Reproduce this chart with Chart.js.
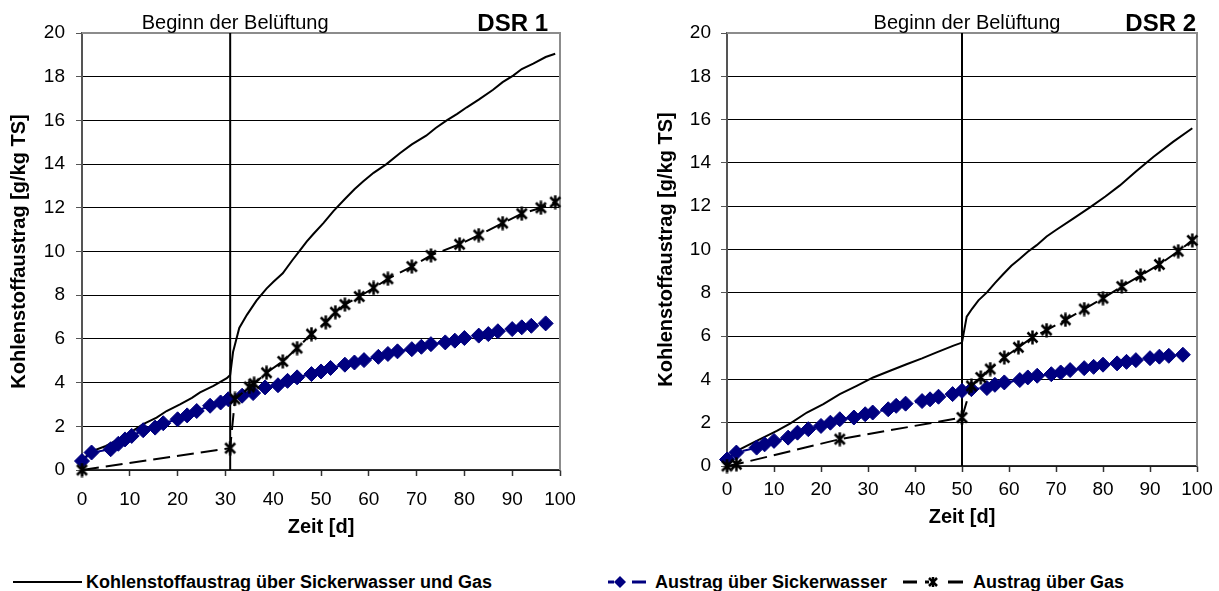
<!DOCTYPE html>
<html lang="de">
<head>
<meta charset="UTF-8">
<title>Kohlenstoffaustrag DSR 1 / DSR 2</title>
<script src="https://cdn.jsdelivr.net/npm/chart.js@4.4.1/dist/chart.umd.min.js"></script>
<style>
  body { margin: 0; background: #fff; font-family: 'Liberation Sans', Arial, sans-serif; }
  .page { position: relative; width: 1219px; height: 591px; overflow: hidden; background: #fff; }
  #dsr1 { position: absolute; left: 0; top: 0; }
  #dsr2 { position: absolute; left: 645px; top: 0; }
  .lg-icon { position: absolute; top: 570px; }
  .lg-text { position: absolute; top: 570px; font-size: 18px; line-height: 24px; font-weight: bold; color: #000; white-space: nowrap; }
</style>
</head>
<body>
<div class="page">
  <canvas id="dsr1" width="600" height="545"></canvas>
  <canvas id="dsr2" width="574" height="545"></canvas>

  <svg class="lg-icon" style="left:13px" width="70" height="24"><line x1="0" y1="12" x2="69" y2="12" stroke="#000" stroke-width="2"/></svg>
  <span class="lg-text" style="left:86px">Kohlenstoffaustrag über Sickerwasser und Gas</span>

  <svg class="lg-icon" style="left:606px" width="42" height="24">
    <line x1="2" y1="12" x2="8" y2="12" stroke="#000080" stroke-width="3"/>
    <polygon points="14,6 20,12 14,18 8,12" fill="#000080"/>
    <line x1="26" y1="12" x2="40" y2="12" stroke="#000080" stroke-width="3"/>
  </svg>
  <span class="lg-text" style="left:655px">Austrag über Sickerwasser</span>

  <svg class="lg-icon" style="left:901px" width="64" height="24">
    <line x1="2" y1="12" x2="16" y2="12" stroke="#000" stroke-width="3"/>
    <line x1="24" y1="12" x2="28" y2="12" stroke="#000" stroke-width="3"/>
    <line x1="28" y1="8" x2="36" y2="16" stroke="#000" stroke-width="2.5"/>
    <line x1="36" y1="8" x2="28" y2="16" stroke="#000" stroke-width="2.5"/>
    <line x1="32" y1="7" x2="32" y2="17" stroke="#000" stroke-width="2.5"/>
    <line x1="47" y1="12" x2="62" y2="12" stroke="#000" stroke-width="3"/>
  </svg>
  <span class="lg-text" style="left:973px">Austrag über Gas</span>
</div>

<script>
// Zeit in Tagen, Austrag in g/kg TS
const dsr1AerationDay = 31;
const dsr1TotalDays = [0, 2, 5, 8, 10.7, 12.8, 15.6, 17.7, 20.5, 23, 24.7, 27.5, 30.3, 31, 31.6, 32.9, 34.5, 36.5, 38.6, 40, 42, 44, 45.6, 47, 48.4, 50.5, 52.6, 55, 57, 58.8, 61, 63.7, 66.5, 69, 72, 74, 76.3, 78.5, 80.5, 83, 86, 88, 90.2, 92, 94.4, 97, 99];
const dsr1Total = [0.45, 0.85, 1.1, 1.45, 1.8, 2.1, 2.4, 2.7, 3.0, 3.3, 3.55, 3.85, 4.2, 4.35, 5.4, 6.5, 7.1, 7.75, 8.3, 8.6, 9.0, 9.6, 10.05, 10.45, 10.8, 11.3, 11.85, 12.4, 12.85, 13.2, 13.6, 14.0, 14.5, 14.9, 15.3, 15.65, 16.0, 16.3, 16.6, 16.95, 17.4, 17.75, 18.05, 18.35, 18.6, 18.9, 19.05];
const dsr1WaterDays = [0, 2, 6, 7.6, 9, 10.4, 12.8, 15.3, 17, 20, 22, 24, 26.8, 29, 30.6, 33.5, 35.8, 38.3, 41, 43, 45, 48, 50, 52, 55, 57, 59, 62, 64, 66, 69, 71, 73, 76, 78, 80, 83, 85, 87, 90, 92, 94, 97];
const dsr1Water = [0.41, 0.8, 0.95, 1.2, 1.4, 1.56, 1.82, 1.94, 2.14, 2.32, 2.5, 2.7, 2.94, 3.09, 3.24, 3.4, 3.52, 3.78, 3.88, 4.08, 4.24, 4.39, 4.51, 4.67, 4.82, 4.92, 5.03, 5.18, 5.31, 5.43, 5.53, 5.64, 5.76, 5.84, 5.92, 6.04, 6.15, 6.22, 6.35, 6.45, 6.53, 6.6, 6.71];
const dsr1GasDays = [0, 31, 32, 35, 36, 38.6, 42, 45, 48, 51, 53, 55, 58, 61, 64, 69, 73, 79, 83, 88, 92, 96, 99];
const dsr1Gas = [0, 1.0, 3.25, 3.8, 3.95, 4.45, 4.97, 5.58, 6.22, 6.76, 7.22, 7.57, 7.94, 8.33, 8.75, 9.31, 9.82, 10.33, 10.75, 11.3, 11.73, 12.0, 12.26];

const dsr2AerationDay = 50;
const dsr2TotalDays = [0, 2, 6.3, 10.6, 13.4, 17, 20.5, 24, 27.6, 31.1, 34.7, 38.2, 41.5, 44.6, 48.2, 50, 51, 52.1, 53.5, 55.3, 57, 58.8, 60.5, 62.3, 64, 65.9, 68, 70, 73.5, 77.3, 80.5, 83.6, 87, 90.7, 94.9, 99];
const dsr2Total = [0.3, 0.69, 1.16, 1.62, 1.96, 2.47, 2.86, 3.32, 3.7, 4.09, 4.4, 4.7, 4.97, 5.25, 5.56, 5.7, 6.9, 7.25, 7.65, 8.02, 8.45, 8.87, 9.25, 9.57, 9.9, 10.2, 10.6, 10.9, 11.4, 11.96, 12.45, 12.96, 13.6, 14.27, 14.97, 15.6];
const dsr2WaterDays = [0, 2, 6.3, 8, 10, 13, 15, 17.3, 20, 22, 24, 27, 29.4, 31, 34.3, 36, 38, 41.5, 43.2, 45, 48, 50, 52, 55.3, 57, 59, 62.3, 64, 66, 69, 71, 73, 76, 78, 80, 83, 85, 87, 90, 92, 94, 97];
const dsr2Water = [0.3, 0.62, 0.85, 1.0, 1.16, 1.31, 1.54, 1.7, 1.85, 2.0, 2.16, 2.24, 2.39, 2.47, 2.62, 2.78, 2.88, 3.0, 3.08, 3.2, 3.32, 3.47, 3.55, 3.6, 3.75, 3.86, 3.97, 4.09, 4.17, 4.24, 4.32, 4.43, 4.52, 4.58, 4.68, 4.74, 4.81, 4.89, 4.98, 5.05, 5.09, 5.14];
const dsr2GasDays = [0, 2, 24, 50, 52, 54, 56, 59, 62, 65, 68, 72, 76, 80, 84, 88, 92, 96, 99];
const dsr2Gas = [0, 0.08, 1.24, 2.24, 3.7, 4.09, 4.48, 5.01, 5.48, 5.94, 6.28, 6.75, 7.25, 7.75, 8.29, 8.8, 9.31, 9.92, 10.42];

const FONT = "'Liberation Sans', Arial, sans-serif";
Chart.defaults.font.family = FONT;
Chart.defaults.color = '#000';

const pts = (xs, ys) => xs.map((x, i) => ({ x: x, y: ys[i] }));

// Stern-Marker wie in Excel: X mit senkrechtem Strich
const starMarker = document.createElement('canvas');
starMarker.width = 15; starMarker.height = 15;
(function () {
  const c = starMarker.getContext('2d');
  c.strokeStyle = '#000'; c.lineWidth = 2.5;
  c.beginPath();
  c.moveTo(2.5, 2.5); c.lineTo(12.5, 12.5);
  c.moveTo(12.5, 2.5); c.lineTo(2.5, 12.5);
  c.moveTo(7.5, 0.5); c.lineTo(7.5, 14.5);
  c.stroke();
})();

// Rahmen oben/rechts und Beschriftungen über der Fläche
const framePlugin = {
  id: 'frameLabels',
  beforeDatasetsDraw(chart) {
    const { ctx, chartArea: a } = chart;
    ctx.save();
    ctx.strokeStyle = '#8c8c8c';
    ctx.lineWidth = 2;
    ctx.beginPath();
    ctx.moveTo(a.left, a.top);
    ctx.lineTo(a.right, a.top);
    ctx.lineTo(a.right, a.bottom);
    ctx.stroke();
    ctx.restore();
  },
  afterDraw(chart, args, opts) {
    const { ctx, chartArea: a, scales } = chart;
    ctx.save();
    ctx.fillStyle = '#000';
    ctx.textBaseline = 'alphabetic';
    ctx.font = '20px ' + FONT;
    ctx.textAlign = 'center';
    ctx.fillText('Beginn der Belüftung', scales.x.getPixelForValue(opts.day) + 5, 29);
    ctx.font = 'bold 24px ' + FONT;
    ctx.textAlign = 'right';
    ctx.fillText(opts.title, a.right + opts.titleShift, 31);
    ctx.restore();
  }
};

function buildChart(id, s) {
  return new Chart(document.getElementById(id), {
    type: 'line',
    data: {
      datasets: [
        { label: 'Kohlenstoffaustrag über Sickerwasser und Gas', data: pts(s.totalDays, s.total),
          borderColor: '#000', borderWidth: 2, pointRadius: 0, order: 3 },
        { label: 'Austrag über Sickerwasser', data: pts(s.waterDays, s.water),
          borderColor: '#000080', borderWidth: 2, borderDash: [12, 6],
          pointStyle: 'rectRot', pointRadius: 7.5, pointBorderWidth: 1,
          pointBackgroundColor: '#000080', pointBorderColor: '#000080', clip: false, order: 2 },
        { label: 'Austrag über Gas', data: pts(s.gasDays, s.gas),
          borderColor: '#000', borderWidth: 2, borderDash: [17, 7],
          pointStyle: starMarker, pointRadius: 7, clip: false, order: 1 },
        { label: 'Beginn der Belüftung', data: [{ x: s.day, y: 0 }, { x: s.day, y: 20 }],
          borderColor: '#000', borderWidth: 2, pointRadius: 0, order: 4 }
      ]
    },
    options: {
      responsive: false,
      animation: false,
      devicePixelRatio: 1,
      layout: { padding: { top: 33, right: s.padRight, left: 0, bottom: 0 } },
      plugins: {
        legend: { display: false },
        tooltip: { enabled: false },
        frameLabels: { day: s.day, title: s.title, titleShift: s.titleShift }
      },
      scales: {
        x: {
          type: 'linear', min: 0, max: 100,
          afterFit: sc => { sc.height = s.xHeight; },
          ticks: { stepSize: 10, padding: s.xTickPad, maxRotation: 0, color: '#000', font: { size: 19 } },
          grid: { drawOnChartArea: false, tickLength: 6, tickColor: '#333', tickWidth: 1.5 },
          border: { color: '#333', width: 1.5 },
          title: { display: true, text: 'Zeit [d]', color: '#000',
                   font: { size: 20, weight: 'bold' }, padding: { top: 0, bottom: s.xTitlePad } }
        },
        y: {
          min: 0, max: 20,
          afterFit: sc => { sc.width = 82; },
          ticks: { stepSize: 2, padding: s.yTickPad, color: '#000', font: { size: 19 } },
          grid: { color: '#000', lineWidth: 1, tickLength: 6, tickColor: '#555' },
          border: { color: '#555', width: 2 },
          title: { display: true, text: 'Kohlenstoffaustrag [g/kg TS]', color: '#000',
                   font: { size: 20, weight: 'bold' }, padding: { top: s.yTitlePad, bottom: 0 } }
        }
      }
    },
    plugins: [framePlugin]
  });
}

buildChart('dsr1', {
  title: 'DSR 1', day: dsr1AerationDay,
  totalDays: dsr1TotalDays, total: dsr1Total,
  waterDays: dsr1WaterDays, water: dsr1Water,
  gasDays: dsr1GasDays, gas: dsr1Gas,
  padRight: 40, xHeight: 75, xTickPad: 12, xTitlePad: 6, yTickPad: 11, yTitlePad: 7, titleShift: -12
});

buildChart('dsr2', {
  title: 'DSR 2', day: dsr2AerationDay,
  totalDays: dsr2TotalDays, total: dsr2Total,
  waterDays: dsr2WaterDays, water: dsr2Water,
  gasDays: dsr2GasDays, gas: dsr2Gas,
  padRight: 22, xHeight: 79, xTickPad: 6, xTitlePad: 16, yTickPad: 10, yTitlePad: 9, titleShift: -1
});
</script>
</body>
</html>
